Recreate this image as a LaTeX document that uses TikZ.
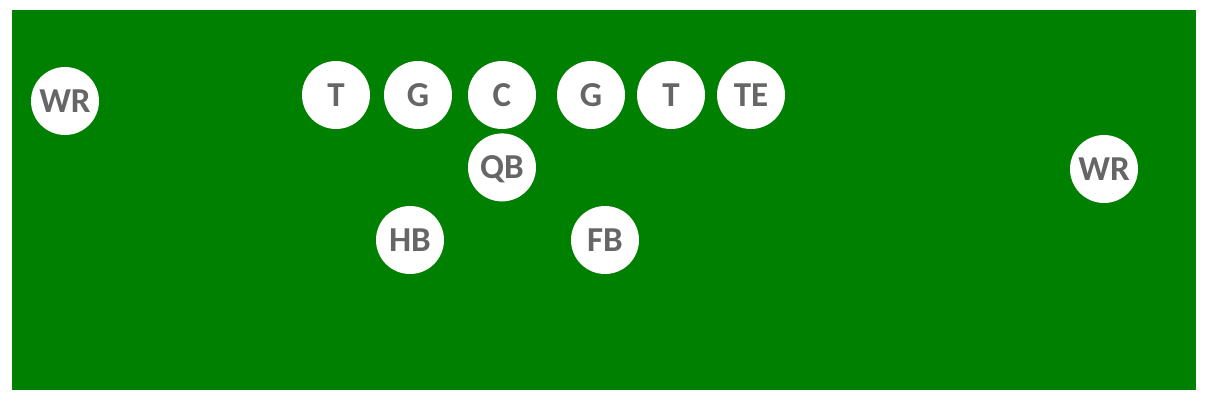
\documentclass[tikz,border=0pt]{standalone}
\usepackage{fontspec}
\setmainfont{Carlito}
\usepackage{xcolor}
\usepackage{tikz}
\usetikzlibrary{positioning}
\definecolor{fieldgreen}{HTML}{008000}
\definecolor{labelgray}{HTML}{666666}

\begin{document}
\begin{tikzpicture}[
		x=1pt, y=-1pt,
		field/.style={fill=fieldgreen, draw=none},
		player/.style={circle, fill=white, draw=none, inner sep=0pt, minimum size=68pt,
			text=labelgray, font=\fontsize{35}{35}\selectfont\bfseries,
			text height=22.5pt, text depth=0pt},
		]
		\useasboundingbox (0,0) rectangle (1210,402);
		%Field
		\fill[field] (11.5,10) rectangle (1196,389.5);

		%Line
		\node[player]	(tackle_l)	at (336,95)		{T};
		\node[player]	(guard_l)	at (418,95)		{G};
		\node[player]	(center)	at (502,95)		{C};
		\node[player]	(guard_r)	at (591,95)		{G};
		\node[player]	(tackle_r)	at (671,95)		{T};
		\node[player]	(tight_end)	at (751,95)		{TE};

		%Backfield
		\node[player]	(qb)		[below=4pt of center]	{QB};
		\node[player]	(hb)		at (410,240)	{HB};
		\node[player]	(fb)		at (605,240)	{FB};

		%Receivers
		\node[player]	(wr_l)		at (65,101)		{WR};
		\node[player]	(wr_r)		at (1104,169)	{WR};

	\end{tikzpicture}
\end{document}
